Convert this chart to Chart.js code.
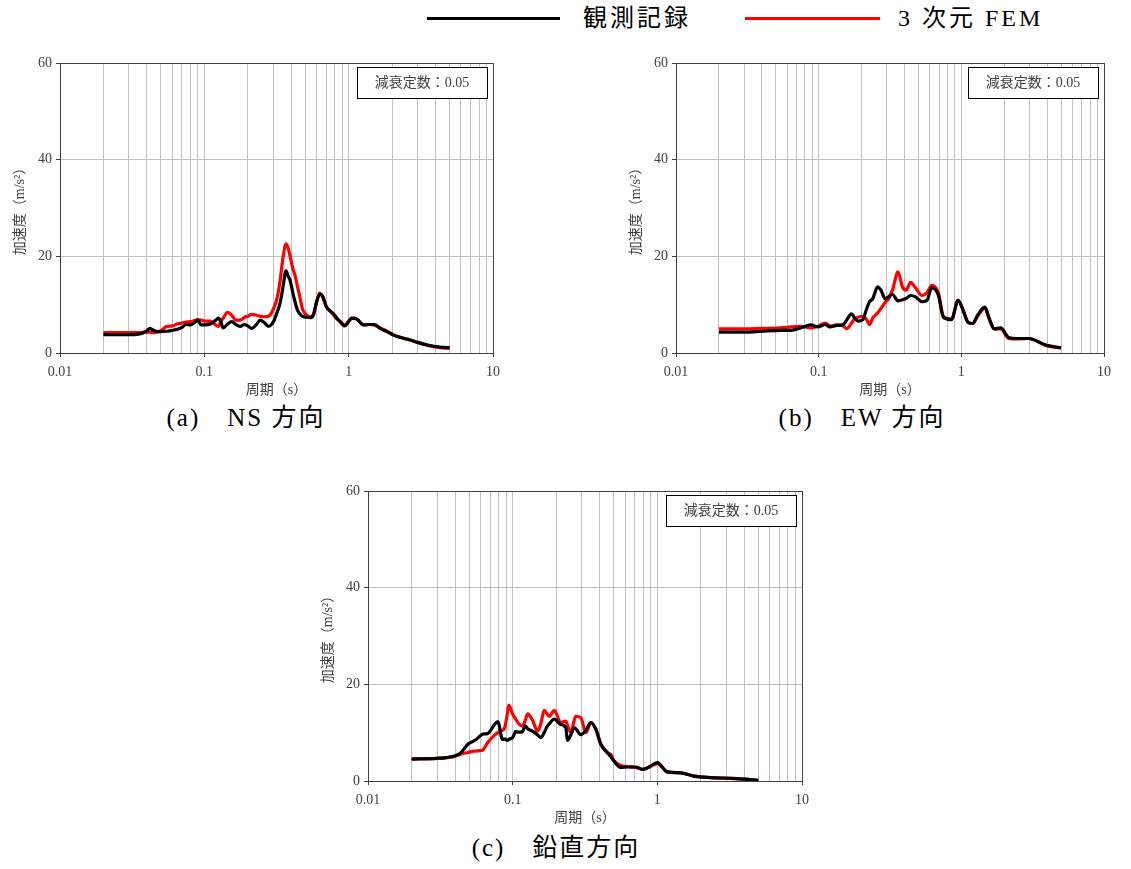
<!DOCTYPE html>
<html>
<head>
<meta charset="utf-8">
<title>加速度応答スペクトル</title>
<script src="https://cdn.jsdelivr.net/npm/chart.js"></script>
<style>
body { margin: 0; background: #fff; width: 1131px; height: 869px; position: relative; overflow: hidden;
       font-family: 'Liberation Serif', 'Noto Sans CJK JP', serif; }
.legend__line { position: absolute; top: 17px; height: 3px; }
.legend__text { position: absolute; top: 3px; font-size: 24px; line-height: 30px; letter-spacing: 3px; white-space: nowrap; color: #000; }
.chart__box { position: absolute; width: 510px; height: 350px; }
.chart__caption { position: absolute; font-size: 25px; line-height: 30px; letter-spacing: 2px; white-space: nowrap; transform: translateX(-50%); color: #000; }
</style>
</head>
<body>

<div class="legend__line" style="left:427px;width:133px;background:#000;"></div>
<div class="legend__text" style="left:583px;">観測記録</div>
<div class="legend__line" style="left:745px;width:135px;background:#ff0000;"></div>
<div class="legend__text" style="left:898px;">3 次元 FEM</div>

<div class="chart__box" style="left:0;top:50px;"><canvas id="chart-ns" width="510" height="350"></canvas></div>
<div class="chart__box" style="left:616px;top:50px;"><canvas id="chart-ew" width="510" height="350"></canvas></div>
<div class="chart__box" style="left:308px;top:478px;"><canvas id="chart-v" width="510" height="350"></canvas></div>

<div class="chart__caption" style="left:246px;top:403px;">(a)　NS 方向</div>
<div class="chart__caption" style="left:862px;top:403px;">(b)　EW 方向</div>
<div class="chart__caption" style="left:556px;top:833px;">(c)　鉛直方向</div>

<script>
// tick labels
var xTickValues = [0.01, 0.1, 1, 10];
var xTickLabels = ['0.01', '0.1', '1', '10'];
var yTickValues = [0, 20, 40, 60];
var dampingLabel = '減衰定数：0.05';

// NS
var periodsNS = [0.02, 0.025, 0.03, 0.035, 0.04, 0.042, 0.045, 0.05, 0.055, 0.06,
    0.065, 0.07, 0.075, 0.08, 0.085, 0.09, 0.095, 0.1, 0.11, 0.12,
    0.125, 0.13, 0.135, 0.145, 0.155, 0.165, 0.177, 0.19, 0.2, 0.213,
    0.23, 0.243, 0.26, 0.278, 0.3, 0.32, 0.335, 0.35, 0.368, 0.38,
    0.393, 0.41, 0.425, 0.44, 0.456, 0.48, 0.51, 0.54, 0.57, 0.6,
    0.63, 0.66, 0.7, 0.75, 0.78, 0.83, 0.87, 0.94, 1.0, 1.05,
    1.14, 1.27, 1.4, 1.52, 1.65, 1.85, 2.04, 2.3, 2.67, 3.0,
    3.47, 4.3, 5.0];
var obsNS = [3.8, 3.8, 3.8, 3.9, 4.6, 5.1, 4.6, 4.4, 4.5, 4.7,
    4.9, 5.3, 5.9, 5.8, 6.2, 6.8, 5.8, 5.8, 6.0, 6.8,
    7.2, 6.5, 5.2, 6.0, 6.5, 5.9, 5.5, 5.9, 5.6, 5.1,
    5.9, 6.8, 6.3, 5.5, 6.4, 8.5, 10.3, 13.5, 17.0, 16.0,
    15.0, 12.5, 10.6, 9.0, 8.2, 7.6, 7.4, 7.3, 7.9, 10.6,
    12.2, 11.8, 9.6, 8.6, 8.2, 7.2, 6.5, 5.6, 6.5, 7.2,
    7.0, 5.8, 5.9, 5.9, 5.1, 4.4, 3.7, 3.2, 2.7, 2.2,
    1.7, 1.2, 1.1];
var femNS = [4.2, 4.2, 4.2, 4.2, 4.3, 4.3, 4.2, 4.6, 5.5, 5.6,
    6.0, 6.2, 6.4, 6.5, 6.7, 6.9, 6.8, 6.6, 6.6, 5.8,
    5.5, 6.5, 7.2, 8.4, 7.8, 6.8, 6.8, 7.4, 7.6, 8.0,
    7.8, 7.6, 7.5, 7.6, 9.0, 11.5, 15.0, 19.5, 22.6, 21.8,
    20.0, 17.5, 16.0, 14.0, 12.0, 9.0, 7.9, 7.5, 8.0, 10.6,
    12.4, 11.6, 9.6, 8.6, 8.0, 7.0, 6.6, 5.8, 6.6, 7.2,
    7.0, 5.8, 5.9, 5.7, 5.2, 4.5, 3.8, 3.2, 2.7, 2.2,
    1.6, 1.1, 1.0];

// EW
var periodsEW = [0.02, 0.03, 0.04, 0.054, 0.064, 0.075, 0.088, 0.1, 0.111, 0.12,
    0.134, 0.149, 0.157, 0.17, 0.179, 0.189, 0.204, 0.216, 0.227, 0.239,
    0.259, 0.273, 0.293, 0.304, 0.329, 0.36, 0.386, 0.411, 0.44, 0.477,
    0.53, 0.574, 0.621, 0.691, 0.748, 0.853, 0.949, 1.03, 1.11, 1.2,
    1.3, 1.46, 1.57, 1.7, 1.89, 2.15, 2.46, 2.96, 3.96, 5.0];
var obsEW = [4.3, 4.3, 4.5, 4.7, 4.7, 5.2, 5.8, 5.4, 5.9, 5.4,
    5.7, 5.9, 6.8, 8.1, 7.2, 6.6, 6.9, 9.0, 10.6, 11.2,
    13.7, 13.0, 11.2, 11.5, 12.1, 10.8, 11.0, 11.3, 11.9, 11.6,
    10.6, 10.9, 13.5, 11.9, 7.4, 6.9, 10.9, 8.8, 6.4, 6.1,
    7.8, 9.5, 7.1, 5.0, 5.2, 3.2, 3.0, 3.0, 1.6, 1.1];
var femEW = [5.0, 5.0, 5.1, 5.2, 5.4, 5.5, 5.2, 5.6, 6.2, 5.6,
    5.8, 5.6, 5.0, 6.2, 7.1, 7.4, 7.6, 7.0, 5.9, 7.2,
    8.3, 9.2, 10.5, 10.9, 13.0, 16.8, 13.7, 13.0, 14.6, 13.5,
    11.9, 12.5, 14.0, 12.4, 7.6, 7.0, 10.9, 8.8, 6.4, 6.1,
    7.6, 9.3, 7.0, 5.0, 5.0, 3.0, 2.9, 3.0, 1.5, 1.0];

// vertical
var periodsV = [0.02, 0.03, 0.034, 0.04, 0.044, 0.049, 0.054, 0.056, 0.06, 0.062,
    0.067, 0.075, 0.079, 0.085, 0.088, 0.092, 0.094, 0.1, 0.105, 0.111,
    0.117, 0.122, 0.127, 0.137, 0.149, 0.157, 0.165, 0.174, 0.179, 0.194,
    0.215, 0.233, 0.239, 0.252, 0.266, 0.273, 0.296, 0.321, 0.347, 0.376,
    0.407, 0.452, 0.477, 0.502, 0.558, 0.621, 0.709, 0.788, 0.877, 1.0,
    1.17, 1.45, 1.79, 2.33, 3.38, 4.4, 5.0];
var obsV = [4.5, 4.7, 4.8, 5.2, 5.9, 7.6, 8.3, 8.6, 9.4, 9.7,
    9.8, 11.7, 12.3, 8.6, 8.7, 8.4, 8.6, 9.0, 10.2, 10.1,
    10.2, 11.4, 10.8, 10.3, 9.5, 9.0, 10.0, 11.4, 11.8, 12.8,
    11.7, 11.0, 8.4, 9.5, 11.0, 10.8, 9.6, 10.5, 12.1, 10.7,
    7.6, 5.9, 5.0, 4.1, 2.8, 2.9, 2.9, 2.4, 2.9, 3.8,
    1.9, 1.7, 1.0, 0.7, 0.55, 0.3, 0.15];
var femV = [4.6, 4.7, 4.8, 5.1, 5.6, 5.9, 6.2, 6.2, 6.3, 6.4,
    7.9, 9.5, 10.0, 10.5, 11.0, 14.0, 15.7, 13.8, 12.8, 11.7,
    11.4, 12.5, 13.9, 12.6, 10.3, 12.0, 14.6, 13.8, 13.4, 14.6,
    12.1, 12.4, 11.5, 10.0, 12.5, 13.4, 13.1, 10.0, 12.1, 10.7,
    7.6, 5.8, 5.5, 4.2, 3.2, 3.0, 2.8, 2.4, 2.9, 3.6,
    1.9, 1.7, 1.0, 0.7, 0.5, 0.3, 0.15];

var fontFamily = "'Liberation Serif', 'Noto Sans CJK JP', serif";
Chart.defaults.font.family = fontFamily;
Chart.defaults.color = '#404040';

function toPoints(periods, values) {
    return periods.map(function(p, i) { return { x: p, y: values[i] }; });
}

// 1..9 x 10^n grid for the log axis
function logTicks() {
    var ticks = [];
    for (var d = 0; d < xTickValues.length - 1; d++) {
        for (var m = 1; m < 10; m++) {
            var v = m == 1 ? xTickValues[d] : Number((m * xTickValues[d]).toPrecision(6));
            ticks.push({ value: v, major: m == 1 });
        }
    }
    ticks.push({ value: xTickValues[xTickValues.length - 1], major: true });
    return ticks;
}

var frame = {
    id: 'frame',
    afterDatasetsDraw: function(chart) {
        var a = chart.chartArea, ctx = chart.ctx;
        ctx.save();
        ctx.strokeStyle = '#404040';
        ctx.lineWidth = 1;
        ctx.strokeRect(Math.round(a.left) + 0.5, Math.round(a.top) + 0.5,
            Math.round(a.right - a.left), Math.round(a.bottom - a.top));
        ctx.restore();
    }
};

var dampingBox = {
    id: 'dampingBox',
    afterDraw: function(chart) {
        var a = chart.chartArea, ctx = chart.ctx;
        var w = 130, h = 31;
        var x = Math.round(a.right - 6 - w), y = Math.round(a.top + 4);
        ctx.save();
        ctx.fillStyle = '#fff';
        ctx.fillRect(x, y, w, h);
        ctx.strokeStyle = '#000';
        ctx.lineWidth = 1;
        ctx.strokeRect(x + 0.5, y + 0.5, w, h);
        ctx.font = '14px ' + fontFamily;
        ctx.fillStyle = '#404040';
        ctx.textAlign = 'center';
        ctx.textBaseline = 'middle';
        ctx.fillText(dampingLabel, x + w / 2, y + h / 2 + 1);
        ctx.restore();
    }
};

function makeChart(id, periods, obs, fem, padRight) {
    return new Chart(document.getElementById(id), {
        type: 'line',
        data: {
            datasets: [{
                label: '観測記録',
                data: toPoints(periods, obs),
                borderColor: '#000',
                borderWidth: 3.2,
                pointRadius: 0,
                cubicInterpolationMode: 'monotone'
            }, {
                label: '3 次元 FEM',
                data: toPoints(periods, fem),
                borderColor: '#ff0000',
                borderWidth: 3.2,
                pointRadius: 0,
                cubicInterpolationMode: 'monotone'
            }]
        },
        options: {
            responsive: false,
            animation: false,
            devicePixelRatio: 1,
            layout: { padding: { left: 0, top: 13, right: padRight, bottom: 0 } },
            plugins: { legend: { display: false }, tooltip: { enabled: false } },
            scales: {
                x: {
                    type: 'logarithmic',
                    min: 0.01,
                    max: 10,
                    afterBuildTicks: function(scale) { scale.ticks = logTicks(); },
                    afterFit: function(scale) { scale.height = 47; },
                    grid: {
                        color: '#c0c0c0',
                        lineWidth: 1,
                        tickLength: 4,
                        tickColor: function(c) {
                            return c.tick && xTickValues.indexOf(c.tick.value) >= 0 ? '#404040' : 'rgba(0,0,0,0)';
                        }
                    },
                    border: { color: '#404040', width: 1 },
                    ticks: {
                        autoSkip: false,
                        maxRotation: 0,
                        padding: 7,
                        font: { size: 14 },
                        callback: function(v) {
                            var i = xTickValues.indexOf(v);
                            return i < 0 ? '' : xTickLabels[i];
                        }
                    },
                    title: { display: true, text: '周期（s）', font: { size: 14 }, padding: { top: 0, bottom: 1 } }
                },
                y: {
                    min: 0,
                    max: 60,
                    afterBuildTicks: function(scale) {
                        scale.ticks = yTickValues.map(function(v) { return { value: v }; });
                    },
                    afterFit: function(scale) { scale.width = 60; },
                    grid: { color: '#c0c0c0', lineWidth: 1, tickLength: 4, tickColor: '#404040' },
                    border: { color: '#404040', width: 1 },
                    ticks: { padding: 4, font: { size: 14 } },
                    title: { display: true, text: '加速度（m/s²）', font: { size: 14 }, padding: { top: 12, bottom: 0 } }
                }
            }
        },
        plugins: [frame, dampingBox]
    });
}

makeChart('chart-ns', periodsNS, obsNS, femNS, 17);
makeChart('chart-ew', periodsEW, obsEW, femEW, 22);
makeChart('chart-v', periodsV, obsV, femV, 16);
</script>
</body>
</html>
